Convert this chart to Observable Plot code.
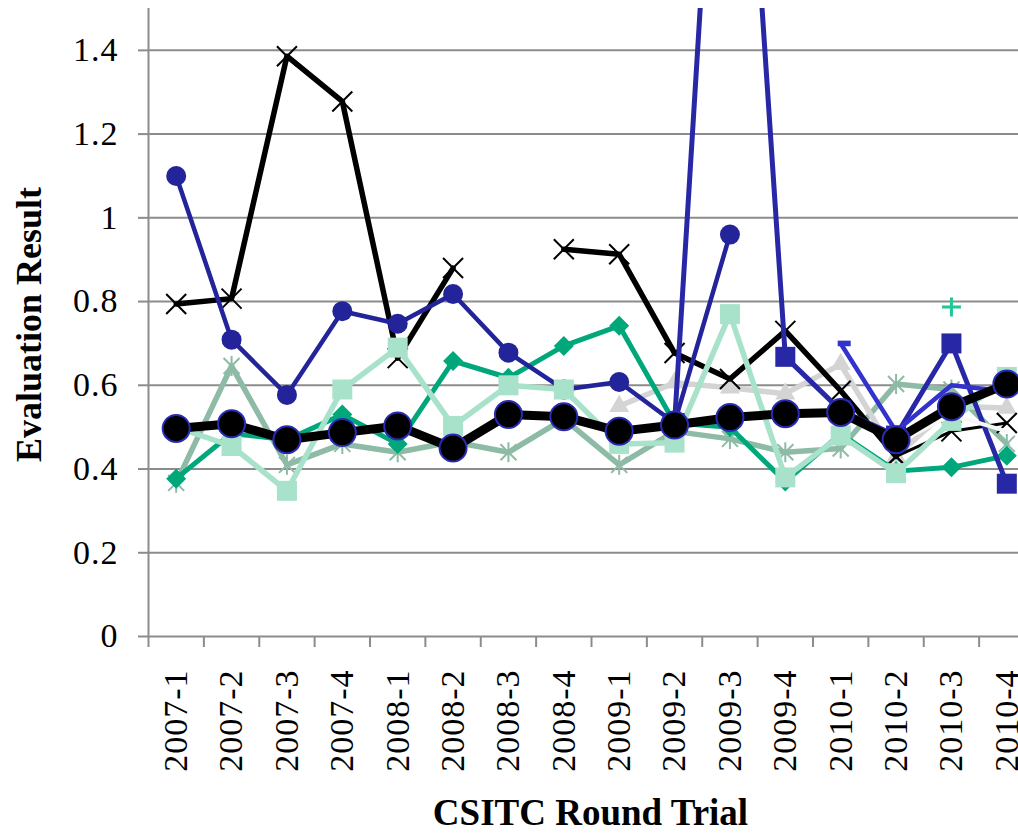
<!DOCTYPE html>
<html><head><meta charset="utf-8">
<script src="https://cdn.jsdelivr.net/npm/d3@7"></script>
<script src="https://cdn.jsdelivr.net/npm/@observablehq/plot@0.6"></script>
<style>
body{margin:0;background:#fff;}
#chart svg text{font-family:'Liberation Serif','Times New Roman',serif !important;}
g[aria-label="x-axis tick label"] text{letter-spacing:1px;}
g[aria-label="y-axis tick label"] text{letter-spacing:1px;}
</style>
</head><body><div id="chart"></div>
<script>
// ---- data ----
const rounds = ["2007-1","2007-2","2007-3","2007-4","2008-1","2008-2","2008-3","2008-4",
                "2009-1","2009-2","2009-3","2009-4","2010-1","2010-2","2010-3","2010-4"];
const yTicks = [0,0.2,0.4,0.6,0.8,1,1.2,1.4];
const blackX     = [0.794,0.807,1.386,1.278,0.665,0.88,null,0.925,0.913,0.677,0.615,0.73,0.587,0.43,null,null];
const blackXEnd  = [null,null,null,null,null,null,null,null,null,null,null,null,null,0.43,0.49,0.51];
const navyCircle = [1.10,0.709,0.577,0.777,0.747,0.818,0.678,0.59,0.608,0.51,0.96,null,null,null,null,null];
const greenDiamond = [0.377,0.485,0.47,0.53,0.46,0.658,0.618,0.694,0.742,0.51,0.50,0.37,0.484,0.395,0.404,0.432];
const mintSquare = [0.50,0.455,0.348,0.59,0.69,0.503,0.60,0.59,0.46,0.463,0.77,0.38,0.48,0.39,0.515,0.62];
const grayGreenStar = [0.367,0.646,0.41,0.46,0.44,0.465,0.44,0.52,0.41,0.49,0.472,0.44,0.449,0.603,0.59,0.46];
const grayTriangle = [null,null,null,null,null,null,null,null,0.55,0.606,0.594,0.58,0.65,0.43,0.55,0.546];
const navySquare = [null,null,null,null,null,null,null,null,null,0.51,2.65,0.668,0.54,0.48,0.70,0.365];
const blueDash   = [null,null,null,null,null,null,null,null,null,null,null,null,0.70,0.49,0.60,0.585];
const tealPlus   = [null,null,null,null,null,null,null,null,null,null,null,null,null,null,0.787,null];
const whiteLine  = [null,null,null,null,null,null,null,null,null,null,null,null,null,0.46,0.53,0.49];
const meanValues = [0.497,0.508,0.47,0.487,0.503,0.45,0.53,0.525,0.49,0.505,0.523,0.532,0.535,0.47,0.549,0.603];

// ---- helpers ----
const rows = (arr) => arr.map((v, i) => ({i, v}));
const defined = (arr) => rows(arr).filter(d => d.v != null);
const mk = (fn) => ({draw(ctx, size){ fn(ctx, Math.sqrt(size / Math.PI)); }});
const symX = mk((c,h)=>{c.moveTo(-h,-h);c.lineTo(h,h);c.moveTo(-h,h);c.lineTo(h,-h);});
const symStar = mk((c,h)=>{c.moveTo(-h*0.8,-h*0.8);c.lineTo(h*0.8,h*0.8);c.moveTo(-h*0.8,h*0.8);c.lineTo(h*0.8,-h*0.8);c.moveTo(0,-h);c.lineTo(0,h);});
const symPlus = mk((c,h)=>{c.moveTo(-h,0);c.lineTo(h,0);c.moveTo(0,-h);c.lineTo(0,h);});
const symDiamond = mk((c,h)=>{c.moveTo(0,-h);c.lineTo(h,0);c.lineTo(0,h);c.lineTo(-h,0);c.closePath();});
const symSquare = mk((c,h)=>{c.rect(-h,-h,2*h,2*h);});
const symDash = mk((c,h)=>{c.rect(-h*0.3,-h*0.28,h*1.3,h*0.56);});

const lineMark = (arr, stroke, w) => Plot.line(rows(arr), {x:"i", y:"v", stroke, strokeWidth:w, clip:true, strokeLinejoin:"round"});
const fillDots = (arr, fill, symbol, r, extra={}) => Plot.dot(defined(arr), {x:"i", y:"v", fill, symbol, r, ...extra});
const strokeDots = (arr, stroke, symbol, r, w) => Plot.dot(defined(arr), {x:"i", y:"v", fill:"none", stroke, symbol, r, strokeWidth:w});

const GRID = "#8c8c8c";
const FONT = "'Liberation Serif', 'Times New Roman', serif";
const idx = rounds.map((_, i) => i);
const bounds = d3.range(-0.5, 15.5, 1);

const chart = Plot.plot({
  width: 1018, height: 833,
  marginLeft: 148, marginRight: 0, marginTop: 8, marginBottom: 197,
  style: {fontFamily: FONT, background: "white", color: "black"},
  x: {type: "linear", domain: [-0.5, -0.5 + 870 / 55.375]},
  y: {domain: [0, 1.5]},
  marks: [
    Plot.gridY(yTicks.filter(d => d > 0), {stroke: GRID, strokeOpacity: 1, strokeWidth: 2}),
    Plot.ruleX([-0.5], {stroke: GRID, strokeWidth: 2}),
    Plot.ruleY([0], {stroke: GRID, strokeWidth: 2}),
    Plot.axisY(yTicks, {tickSize: 10, tickPadding: 20, stroke: GRID, strokeWidth: 2, fill: "black", fontSize: 34,
      fontFamily: FONT, tickFormat: d => `${+d.toFixed(1)}`, label: null}),
    Plot.axisX(bounds, {tickSize: 11, stroke: GRID, strokeWidth: 2, tickFormat: () => "", label: null}),
    Plot.axisX(idx, {tickSize: 0, tickPadding: 33, tickRotate: -90, fontSize: 34, fill: "black",
      fontFamily: FONT, tickFormat: i => rounds[i], label: null}),

    // series
    lineMark(grayGreenStar, "#8ebba6", 5.5),
    strokeDots(grayGreenStar, "#8ebba6", symStar, 10, 2),
    lineMark(grayTriangle, "#d4d4d4", 5.5),
    fillDots(grayTriangle, "#d4d4d4", "triangle", 7.4),
    lineMark(blackX, "black", 5.5),
    strokeDots(blackX, "black", symX, 10, 2),
    lineMark(blackXEnd, "black", 3),
    strokeDots(blackXEnd, "black", symX, 10, 2),
    lineMark(greenDiamond, "#00a77b", 5),
    fillDots(greenDiamond, "#00a77b", symDiamond, 10),
    lineMark(navyCircle, "#23239a", 4.5),
    fillDots(navyCircle, "#23239a", "circle", 10),
    lineMark(mintSquare, "#a8e2ca", 5.5),
    fillDots(mintSquare, "#a8e2ca", symSquare, 10),
    lineMark(navySquare, "#2828a6", 5),
    fillDots(navySquare.map(v => v > 1.5 ? null : v), "#2828a6", symSquare, 10),
    lineMark(blueDash, "#3232cc", 4.5),
    fillDots(blueDash.map((v, i) => i === 12 ? v : null), "#3232cc", symDash, 10),
    strokeDots(tealPlus, "#20c898", symPlus, 9.5, 3),
    lineMark(whiteLine, "#f6f6f6", 4),
    lineMark(meanValues, "black", 9),
    fillDots(meanValues, "black", "circle", 13.5, {stroke: "#2a2ab4", strokeWidth: 2}),

    // axis titles
    Plot.text(["CSITC Round Trial"], {frameAnchor: "bottom", textAnchor: "middle", lineAnchor: "middle",
      dx: 7, dy: 177, fontSize: 37, fontWeight: "bold", fill: "black", fontFamily: FONT}),
    Plot.text(["Evaluation Result"], {frameAnchor: "left", textAnchor: "middle", lineAnchor: "middle",
      dx: -119, dy: 2, rotate: -90, fontSize: 36, fontWeight: "bold", fill: "black", fontFamily: FONT})
  ]
});
document.getElementById("chart").appendChild(chart);
</script>
</body></html>
